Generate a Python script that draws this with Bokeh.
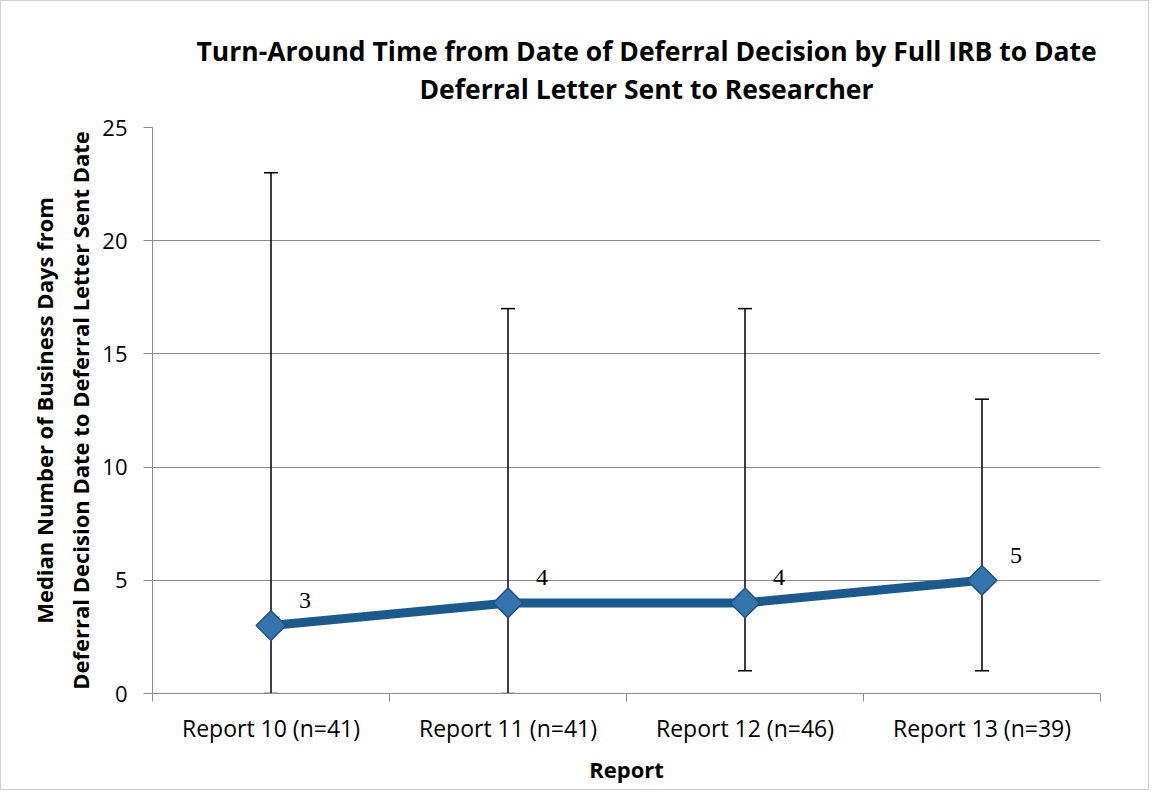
import numpy as np
from bokeh.plotting import figure
from bokeh.models import (ColumnDataSource, Range1d, FixedTicker, Whisker, TeeHead,
                          LabelSet, Title)
from bokeh.embed import file_html
from bokeh.resources import INLINE

categories = ["Report 10 (n=41)", "Report 11 (n=41)", "Report 12 (n=46)", "Report 13 (n=39)"]
medians = [3, 4, 4, 5]
lower = [0, 0, 1, 1]
upper = [23, 17, 17, 13]
y_ticks = [0, 5, 10, 15, 20, 25]
title_lines = ["Turn-Around Time from Date of Deferral Decision by Full IRB to Date",
               "Deferral Letter Sent to Researcher"]

FONT = "Open Sans"
GRID = "#8c8c8c"

xs = [i + 1 for i in range(len(categories))]
src = ColumnDataSource(dict(x=xs, y=medians, lo=lower, hi=upper,
                            lab=[str(m) for m in medians]))

p = figure(width=1149, height=790, output_backend="svg", toolbar_location=None,
           x_range=Range1d(0.5, len(categories) + 0.5), y_range=Range1d(0, y_ticks[-1]),
           min_border_left=151, min_border_right=50, min_border_top=126,
           min_border_bottom=98, outline_line_color=None,
           styles={"border": "1px solid #d0d0d0", "box-sizing": "border-box"})
p.title = None

# title: spacer next to the plot, then line 2, then line 1 (stacked outward)
p.add_layout(Title(text=" ", text_font_size="1px", standoff=18), "above")
p.add_layout(Title(text=title_lines[1], align="left", offset=267, text_font=FONT,
                   text_font_size="26.5px", text_font_style="bold",
                   text_color="black", standoff=0), "above")
p.add_layout(Title(text=title_lines[0], align="left", offset=44, text_font=FONT,
                   text_font_size="26.5px", text_font_style="bold",
                   text_color="black", standoff=0), "above")

# axes
xa = p.xaxis[0]
xa.ticker = FixedTicker(ticks=xs, minor_ticks=[x - 0.5 for x in xs] + [xs[-1] + 0.5])
xa.major_label_overrides = {x: c for x, c in zip(xs, categories)}
xa.major_tick_out = 0
xa.major_tick_in = 0
xa.minor_tick_out = 8
xa.minor_tick_in = 0
xa.minor_tick_line_color = GRID
xa.axis_line_color = GRID
xa.major_label_text_font = FONT
xa.major_label_text_font_size = "23px"
xa.major_label_text_color = "black"
xa.major_label_standoff = 10
xa.axis_label = "Report"
xa.axis_label_text_font = FONT
xa.axis_label_text_font_size = "22px"
xa.axis_label_text_font_style = "bold"
xa.axis_label_text_color = "black"
xa.axis_label_standoff = 7

ya = p.yaxis[0]
ya.ticker = FixedTicker(ticks=y_ticks, minor_ticks=[])
ya.major_tick_out = 9
ya.major_tick_in = 0
ya.major_tick_line_color = GRID
ya.axis_line_color = GRID
ya.major_label_text_font = FONT
ya.major_label_text_font_size = "22px"
ya.major_label_text_color = "black"
ya.major_label_standoff = 16
ya.axis_label = "Median Number of Business Days from\nDeferral Decision Date to Deferral Letter Sent Date"
ya.axis_label_text_font = FONT
ya.axis_label_text_font_size = "22px"
ya.axis_label_text_font_style = "bold"
ya.axis_label_text_color = "black"
ya.axis_label_standoff = 4

p.xgrid.grid_line_color = None
p.ygrid.grid_line_color = GRID
p.ygrid.grid_line_width = 1

# error bars
wh = Whisker(source=src, base="x", lower="lo", upper="hi", dimension="height",
             line_color="black", line_width=1.5, level="underlay",
             upper_head=TeeHead(size=14, line_color="black", line_width=1.5),
             lower_head=TeeHead(size=14, line_color="black", line_width=1.5))
p.add_layout(wh)

# median line
p.line("x", "y", source=src, line_color="#1d5a8c", line_width=9)
p.scatter("x", "y", source=src, marker="square", angle=np.pi / 4, size=21,
          fill_color="#3574ad", line_color="#1f527f", line_width=1.5)

labels = LabelSet(x="x", y="y", text="lab", source=src, x_offset=34, y_offset=25,
                  text_align="center", text_baseline="middle", text_font=FONT,
                  text_font_size="24px", text_color="black")
p.add_layout(labels)

open("out.html", "w").write(file_html(p, INLINE))
